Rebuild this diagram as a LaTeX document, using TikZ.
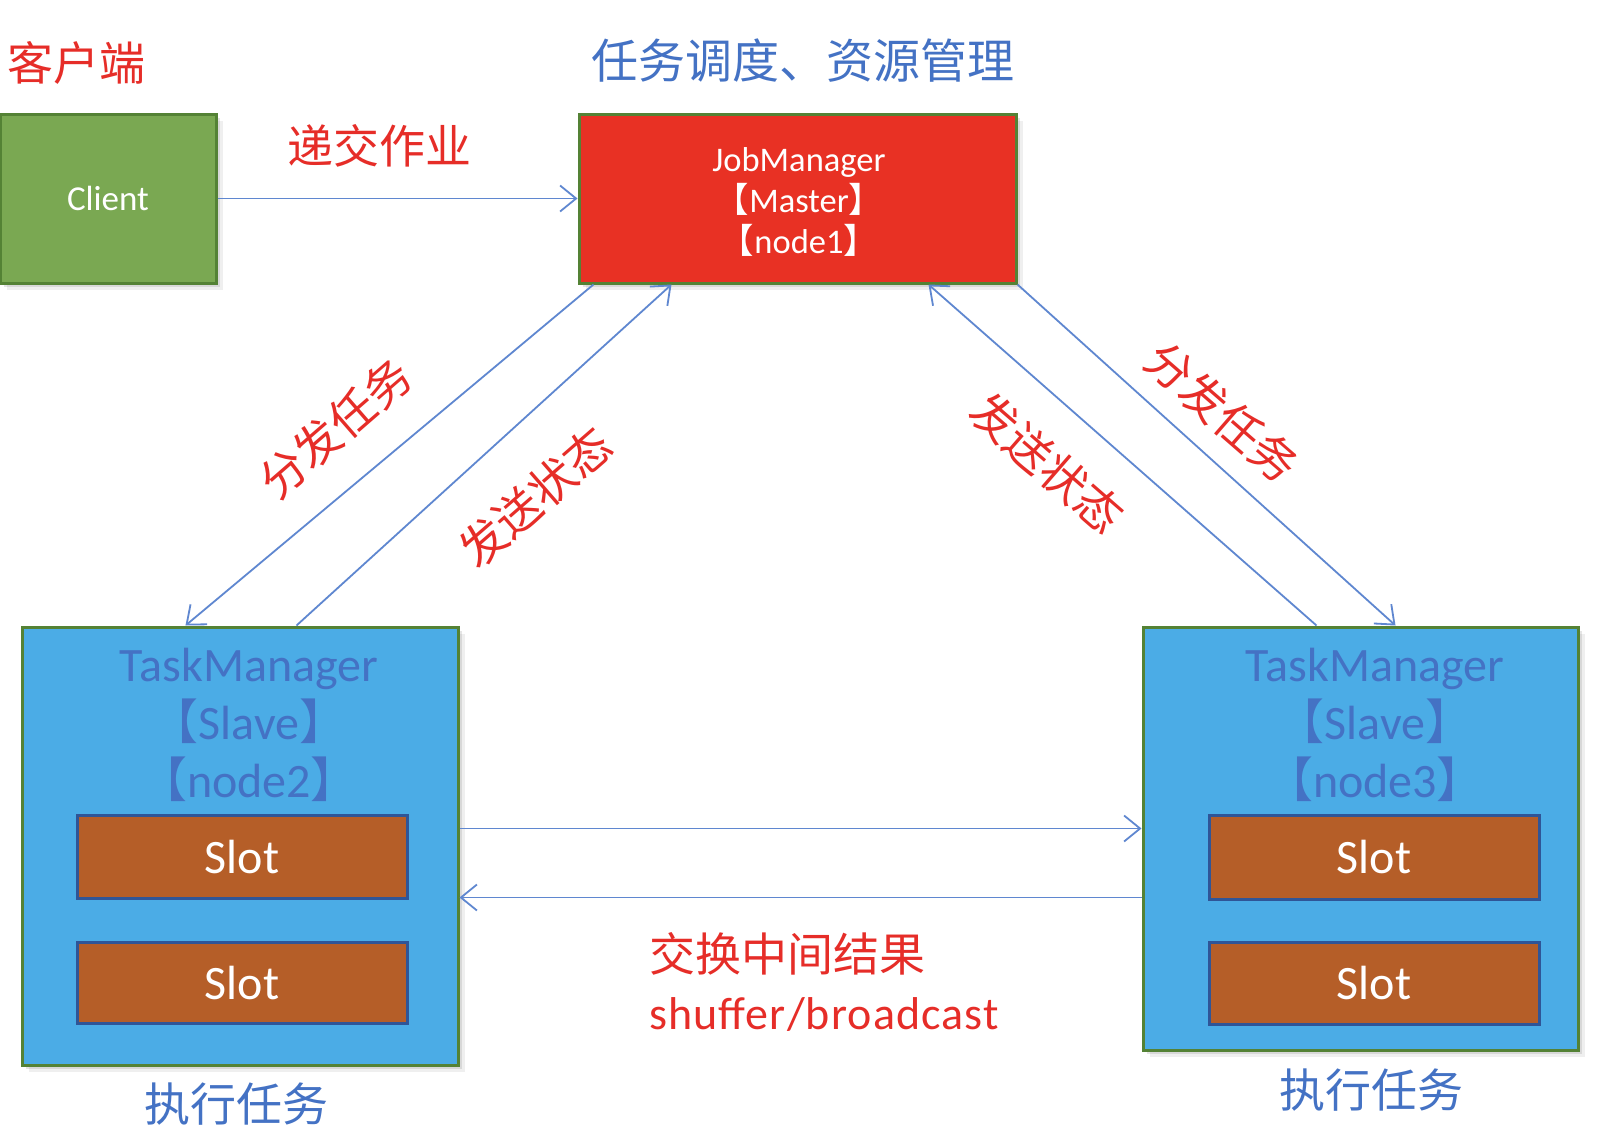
\documentclass[tikz,border=0pt]{standalone}
\usepackage{fontspec}
\setmainfont{Carlito}
\newfontfamily\cjk{Noto Sans CJK SC}
\newfontfamily\spaced[LetterSpace=2.5]{Carlito}
\usetikzlibrary{arrows.meta,shadows,calc}
\definecolor{tred}{RGB}{230,45,40}
\definecolor{tblue}{RGB}{68,114,196}
\definecolor{bgreen}{RGB}{84,130,53}
\definecolor{cgreen}{RGB}{122,168,82}
\definecolor{jred}{RGB}{232,49,36}
\definecolor{tmblue}{RGB}{75,172,230}
\definecolor{slotfill}{RGB}{181,94,40}
\definecolor{slotborder}{RGB}{47,85,151}
\definecolor{arrowblue}{RGB}{95,135,208}
\begin{document}
\begin{tikzpicture}[x=1pt,y=-1pt,
  mainbox/.style={draw=bgreen,line width=3pt,rectangle,inner sep=0pt,
    drop shadow={shadow xshift=7pt,shadow yshift=-7pt,opacity=0.12},
    drop shadow={shadow xshift=4pt,shadow yshift=-4pt,opacity=0.2}},
  slotbox/.style={draw=slotborder,line width=3pt,fill=slotfill,rectangle,
    minimum width=330pt,inner sep=0pt,text=white,font=\fontsize{48}{50}\selectfont},
  conn/.style={draw=arrowblue,line width=1.8pt,
    -{Straight Barb[length=16pt,width=26pt,line width=1.8pt]}},
  zhred/.style={text=tred,inner sep=0pt,font=\cjk\fontsize{46}{50}\selectfont},
  zhblue/.style={text=tblue,inner sep=0pt,font=\cjk\fontsize{46}{50}\selectfont},
  tmlabel/.style={text=tblue,align=center,inner sep=0pt,font=\fontsize{48}{58}\selectfont}
]
\fill[white] (0,0) rectangle (1598,1138);
\useasboundingbox (0,0) rectangle (1598,1138);

% top labels
\node[zhred] (lclient) at (77,63) {客户端};
\node[zhblue,font=\cjk\fontsize{47}{50}\selectfont] (lsched) at (803,61) {任务调度、资源管理};
\node[zhred] (lsubmit) at (379,146) {递交作业};

% main boxes
\node[mainbox,fill=cgreen,minimum width=216pt,minimum height=169pt,text=white,
  font=\fontsize{35}{40}\selectfont] (client) at (108,198.5) {Client};
\node[mainbox,fill=jred,minimum width=437pt,minimum height=169pt] (jm) at (797.5,198.5) {};
\node[text=white,align=center,inner sep=0pt,font=\fontsize{34.5}{41}\selectfont] (jmtext) at (799,202)
  {JobManager\\{\cjk 【}Master{\cjk 】}\\{\cjk 【}node1{\cjk 】}};

\node[mainbox,fill=tmblue,minimum width=436pt,minimum height=438pt] (tmL) at (240,846) {};
\node[mainbox,fill=tmblue,minimum width=435pt,minimum height=423pt] (tmR) at (1360.5,838.5) {};

\node[tmlabel] (tmLtext) at (249,725) {TaskManager\\{\cjk 【}Slave{\cjk 】}\\{\cjk 【}node2{\cjk 】}};
\node[tmlabel] (tmRtext) at (1375,725) {TaskManager\\{\cjk 【}Slave{\cjk 】}\\{\cjk 【}node3{\cjk 】}};

\node[slotbox,minimum height=83pt] (sL1) at (242,856.5) {Slot};
\node[slotbox,minimum height=81pt] (sL2) at (242,982.5) {Slot};
\node[slotbox,minimum height=84pt] (sR1) at (1374,857) {Slot};
\node[slotbox,minimum height=82pt] (sR2) at (1374,983) {Slot};

% connectors
\draw[conn] (client.east) -- (jm.west);
\draw[conn] ($(jm.south west)+(16,0)$) -- ($(tmL.north west)+(165,0)$);
\draw[conn] ($(tmL.north west)+(276,0)$) -- ($(jm.south west)+(94,0)$);
\draw[conn] ($(tmR.north west)+(175,0)$) -- ($(jm.south west)+(351,0)$);
\draw[conn] (jm.south east) -- ($(tmR.north west)+(254,0)$);
\draw[conn] ($(tmL.north east)+(0,203)$) -- ($(tmR.north west)+(0,203)$);
\draw[conn] ($(tmR.north west)+(0,272)$) -- ($(tmL.north east)+(0,272)$);

% diagonal labels
\node[zhred,rotate=41] (l1) at (335,428) {分发任务};
\node[zhred,rotate=41] (l2) at (535,497) {发送状态};
\node[zhred,rotate=-41] (l3) at (1047,463) {发送状态};
\node[zhred,rotate=-41] (l4) at (1222,412) {分发任务};

% exchange labels
\node[zhred,anchor=west] (lex) at (649,954) {交换中间结果};
\node[text=tred,anchor=west,inner sep=0pt,font=\spaced\fontsize{46}{50}\selectfont] (lshuf) at (649,1014) {shuffer/broadcast};

% bottom labels
\node[zhblue] (lexecL) at (236,1104) {执行任务};
\node[zhblue] (lexecR) at (1371,1090) {执行任务};
\end{tikzpicture}
\end{document}
